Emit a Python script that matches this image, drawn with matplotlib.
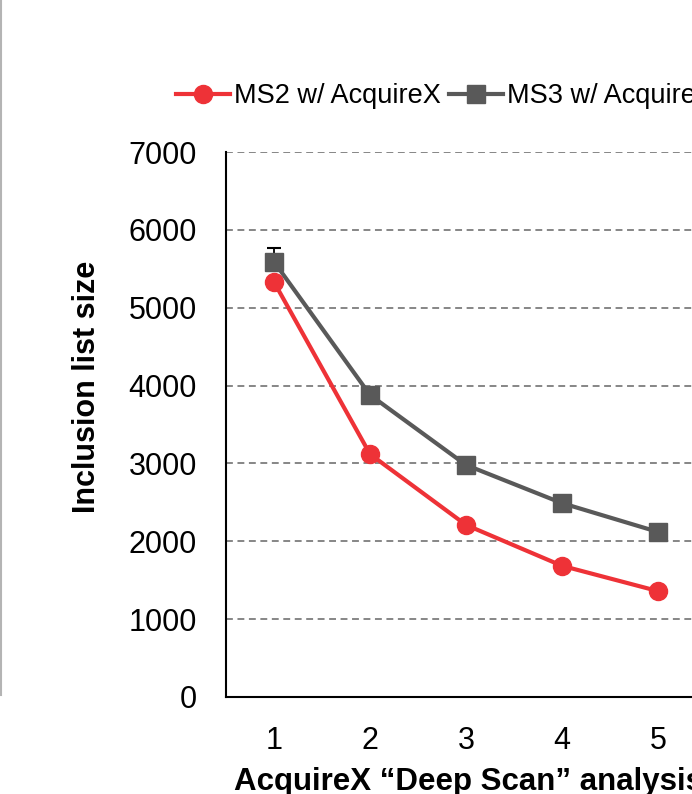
"""Inclusion list size vs AcquireX deep scan round."""
import numpy as np
import matplotlib

matplotlib.use("Agg")
import matplotlib.pyplot as plt
from matplotlib.lines import Line2D

plt.rcParams["font.family"] = ["Liberation Sans", "DejaVu Sans"]

# ----------------------------------------------------------------------
# data
# ----------------------------------------------------------------------
rounds = [1, 2, 3, 4, 5]
ms2_size = [5330, 3120, 2210, 1685, 1360]
ms3_size = [5590, 3880, 2980, 2490, 2120]
ms3_err = [180, 0, 0, 0, 0]
y_ticks = [0, 1000, 2000, 3000, 4000, 5000, 6000, 7000]

RED = "#EE3237"
GREY = "#595959"

W, H = 692, 794
fig = plt.figure(figsize=(W / 100, H / 100), dpi=100)

# axes run past the right edge (the source image is cropped)
left, right, bottom, top = 226, 706, 697, 152
ax = fig.add_axes([left / W, 1 - bottom / H, (right - left) / W, (bottom - top) / H])

ax.errorbar(rounds, ms3_size, yerr=[np.zeros(5), ms3_err], fmt="none",
            ecolor="black", elinewidth=1.3, capsize=5, capthick=1.5, zorder=2)
ax.plot(rounds, ms2_size, "-o", color=RED, lw=3, ms=13, zorder=4,
        label="MS2 w/ AcquireX")
ax.plot(rounds, ms3_size, "-s", color=GREY, lw=3, ms=12.5, zorder=3,
        label="MS3 w/ AcquireX")

ax.set_xlim(0.5, 5.5)
ax.set_ylim(0, 7000)
ax.set_xticks(rounds)
ax.set_yticks(y_ticks)
ax.tick_params(axis="both", length=0, labelsize=22, pad=21)
ax.yaxis.grid(True, color="#666666", ls=(0, (4.5, 3)), lw=1.1)
ax.set_axisbelow(True)
for s in ("top", "right"):
    ax.spines[s].set_visible(False)
for s in ("left", "bottom"):
    ax.spines[s].set_linewidth(1.5)

fig.text(87 / W, 1 - 387 / H, "Inclusion list size", rotation=90,
         ha="center", va="center", fontsize=22, fontweight="bold")
fig.text(234 / W, 1 - 790 / H, "AcquireX \u201cDeep Scan\u201d analysis",
         ha="left", va="baseline", fontsize=22.5, fontweight="bold")

fig.legend(loc="center left", bbox_to_anchor=(176 / W, 1 - 96 / H),
           ncol=2, frameon=False, fontsize=19.5, borderpad=0,
           borderaxespad=0, handlelength=2.0, handletextpad=0.15,
           columnspacing=0.3)

# thin grey frame line at the left edge of the source image
fig.add_artist(Line2D([1 / W, 1 / W], [1, 1 - 695 / H],
                      transform=fig.transFigure, color="#b4b4b4", lw=1.5))

fig.savefig("out.png", dpi=100)
